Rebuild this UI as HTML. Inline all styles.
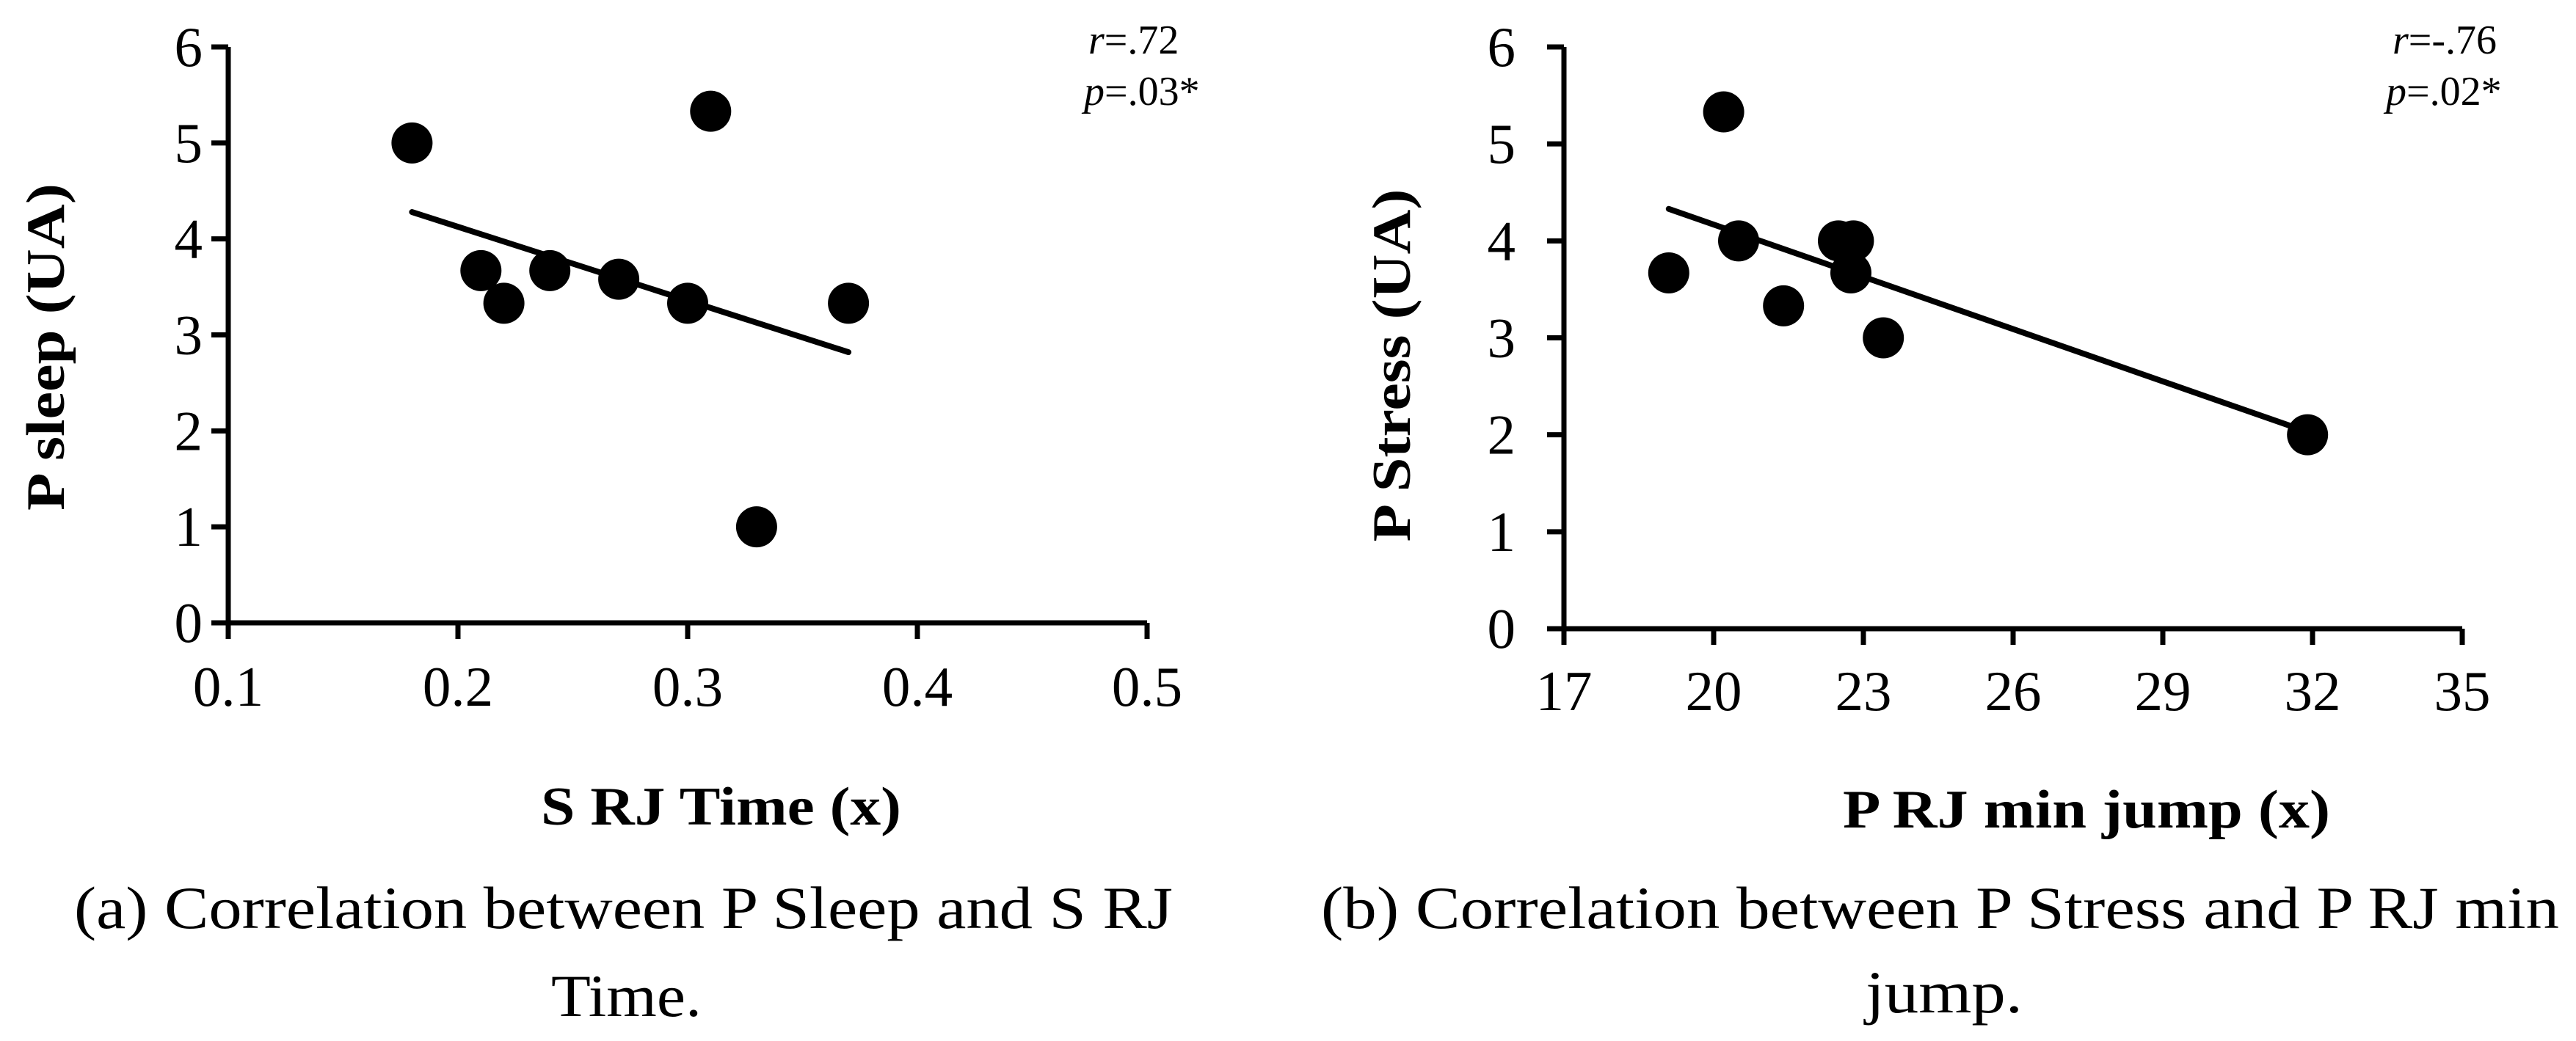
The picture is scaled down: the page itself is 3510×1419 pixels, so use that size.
<!DOCTYPE html>
<html><head><meta charset="utf-8"><style>
html,body{margin:0;padding:0;background:#fff;}
svg{display:block;}
text{font-family:"Liberation Serif",serif;fill:#000;}
</style></head><body>
<svg id="fig" width="3510" height="1419" viewBox="0 0 3510 1419" xmlns="http://www.w3.org/2000/svg">
<g id="chartA"></g>
<g id="chartB"></g>
<text x="101" y="1265" font-size="82" textLength="1497" lengthAdjust="spacingAndGlyphs">(a) Correlation between P Sleep and S RJ</text>
<text x="751" y="1385" font-size="82" textLength="205" lengthAdjust="spacingAndGlyphs">Time.</text>
<text x="1800" y="1265" font-size="82" textLength="1687" lengthAdjust="spacingAndGlyphs">(b) Correlation between P Stress and P RJ min</text>
<text x="2542" y="1380" font-size="82" textLength="214" lengthAdjust="spacingAndGlyphs">jump.</text>
</svg>
<script>
// Chart A data
const aX = [0.18, 0.21, 0.22, 0.24, 0.27, 0.30, 0.31, 0.33, 0.37];
const aY = [5.0, 3.67, 3.33, 3.67, 3.58, 3.33, 5.33, 1.0, 3.33];
const aTrendX = [0.18, 0.37];
const aTrendY = [4.28, 2.82];
const aXTicks = ["0.1", "0.2", "0.3", "0.4", "0.5"];
const aYTicks = ["0", "1", "2", "3", "4", "5", "6"];
// Chart B data
const bX = [19.1, 20.2, 20.5, 21.4, 22.5, 22.8, 22.75, 23.4, 31.9];
const bY = [3.67, 5.33, 4.0, 3.33, 4.0, 4.0, 3.67, 3.0, 2.0];
const bTrendX = [19.1, 31.9];
const bTrendY = [4.33, 2.03];
const bXTicks = ["17", "20", "23", "26", "29", "32", "35"];
const bYTicks = ["0", "1", "2", "3", "4", "5", "6"];

const NS = "http://www.w3.org/2000/svg";
function mk(parent, tag, attrs) {
  const e = document.createElementNS(NS, tag);
  for (const k in attrs) e.setAttribute(k, attrs[k]);
  parent.appendChild(e);
  return e;
}
function draw(cfg) {
  const g = document.getElementById(cfg.id);
  const xmin = parseFloat(cfg.xt[0]), xmax = parseFloat(cfg.xt[cfg.xt.length - 1]);
  const ymin = parseFloat(cfg.yt[0]), ymax = parseFloat(cfg.yt[cfg.yt.length - 1]);
  const sx = v => cfg.x0 + (v - xmin) / (xmax - xmin) * (cfg.x1 - cfg.x0);
  const sy = v => cfg.y0 - (v - ymin) / (ymax - ymin) * (cfg.y0 - cfg.y1);
  let e;
  e = mk(g, "line", {x1: cfg.x0, y1: cfg.y0, x2: cfg.x0, y2: cfg.y1, stroke: "#000", "stroke-width": 7});
  
  
  e = mk(g, "line", {x1: cfg.x0 - 23, y1: cfg.y0, x2: cfg.x1, y2: cfg.y0, stroke: "#000", "stroke-width": 7});
  
  
  cfg.xt.forEach(t => {
    const x = sx(parseFloat(t));
    e = mk(g, "line", {x1: x, y1: cfg.y0, x2: x, y2: cfg.y0 + 22, stroke: "#000", "stroke-width": 7});
    
    
    e = mk(g, "text", {x: x, y: cfg.xlabY, "font-size": 77, "text-anchor": "middle"});
    e.textContent = t;
    
    
  });
  cfg.yt.forEach(t => {
    const y = sy(parseFloat(t));
    e = mk(g, "line", {x1: cfg.x0 - 23, y1: y, x2: cfg.x0, y2: y, stroke: "#000", "stroke-width": 7});
    
    
    e = mk(g, "text", {x: cfg.ylabX, y: y + 26, "font-size": 77, "text-anchor": "end"});
    e.textContent = t;
    
    
  });
  e = mk(g, "line", {x1: sx(cfg.tx[0]), y1: sy(cfg.ty[0]), x2: sx(cfg.tx[1]), y2: sy(cfg.ty[1]), stroke: "#000", "stroke-width": 8, "stroke-linecap": "round"});
  
  
  cfg.xs.forEach((v, i) => {
    e = mk(g, "circle", {cx: sx(v), cy: sy(cfg.ys[i]), r: 28, fill: "#000"});
    
    
  });
  e = mk(g, "text", {x: cfg.xtitle[0], y: cfg.xtitle[1], "font-size": 74, "font-weight": "bold", textLength: cfg.xtitle[2], lengthAdjust: "spacingAndGlyphs"});
  e.textContent = cfg.xtitleText;
  
  
  e = mk(g, "text", {x: 0, y: 0, "font-size": 74, "font-weight": "bold", "text-anchor": "middle", textLength: cfg.ytitle[2], lengthAdjust: "spacingAndGlyphs", transform: "translate(" + (cfg.ytitle[0] + 25) + "," + cfg.ytitle[1] + ") rotate(-90)"});
  e.textContent = cfg.ytitleText;
  
  
  e = mk(g, "text", {x: cfg.stat[0], y: cfg.stat[1], "font-size": 56});
  e.innerHTML = '<tspan font-style="italic">r</tspan>=' + cfg.r;
  
  
  e = mk(g, "text", {x: cfg.stat[2], y: cfg.stat[3], "font-size": 56});
  e.innerHTML = '<tspan font-style="italic">p</tspan>=' + cfg.p;
  
  
}
draw({id: "chartA", x0: 311, x1: 1563, y0: 849, y1: 64, xt: aXTicks, yt: aYTicks, xs: aX, ys: aY, tx: aTrendX, ty: aTrendY,
  xlabY: 962, ylabX: 276, xtitle: [737, 1124, 491], xtitleText: "S RJ Time (x)", ytitle: [62, 473, 446], ytitleText: "P sleep (UA)",
  stat: [1483, 73, 1477, 143], r: ".72", p: ".03*"});
draw({id: "chartB", x0: 2131, x1: 3355, y0: 857, y1: 64, xt: bXTicks, yt: bYTicks, xs: bX, ys: bY, tx: bTrendX, ty: bTrendY,
  xlabY: 968, ylabX: 2065, xtitle: [2511, 1128, 664], xtitleText: "P RJ min jump (x)", ytitle: [1896, 498, 481], ytitleText: "P Stress (UA)",
  stat: [3260, 73, 3251, 143], r: "-.76", p: ".02*"});
</script>
</body></html>
